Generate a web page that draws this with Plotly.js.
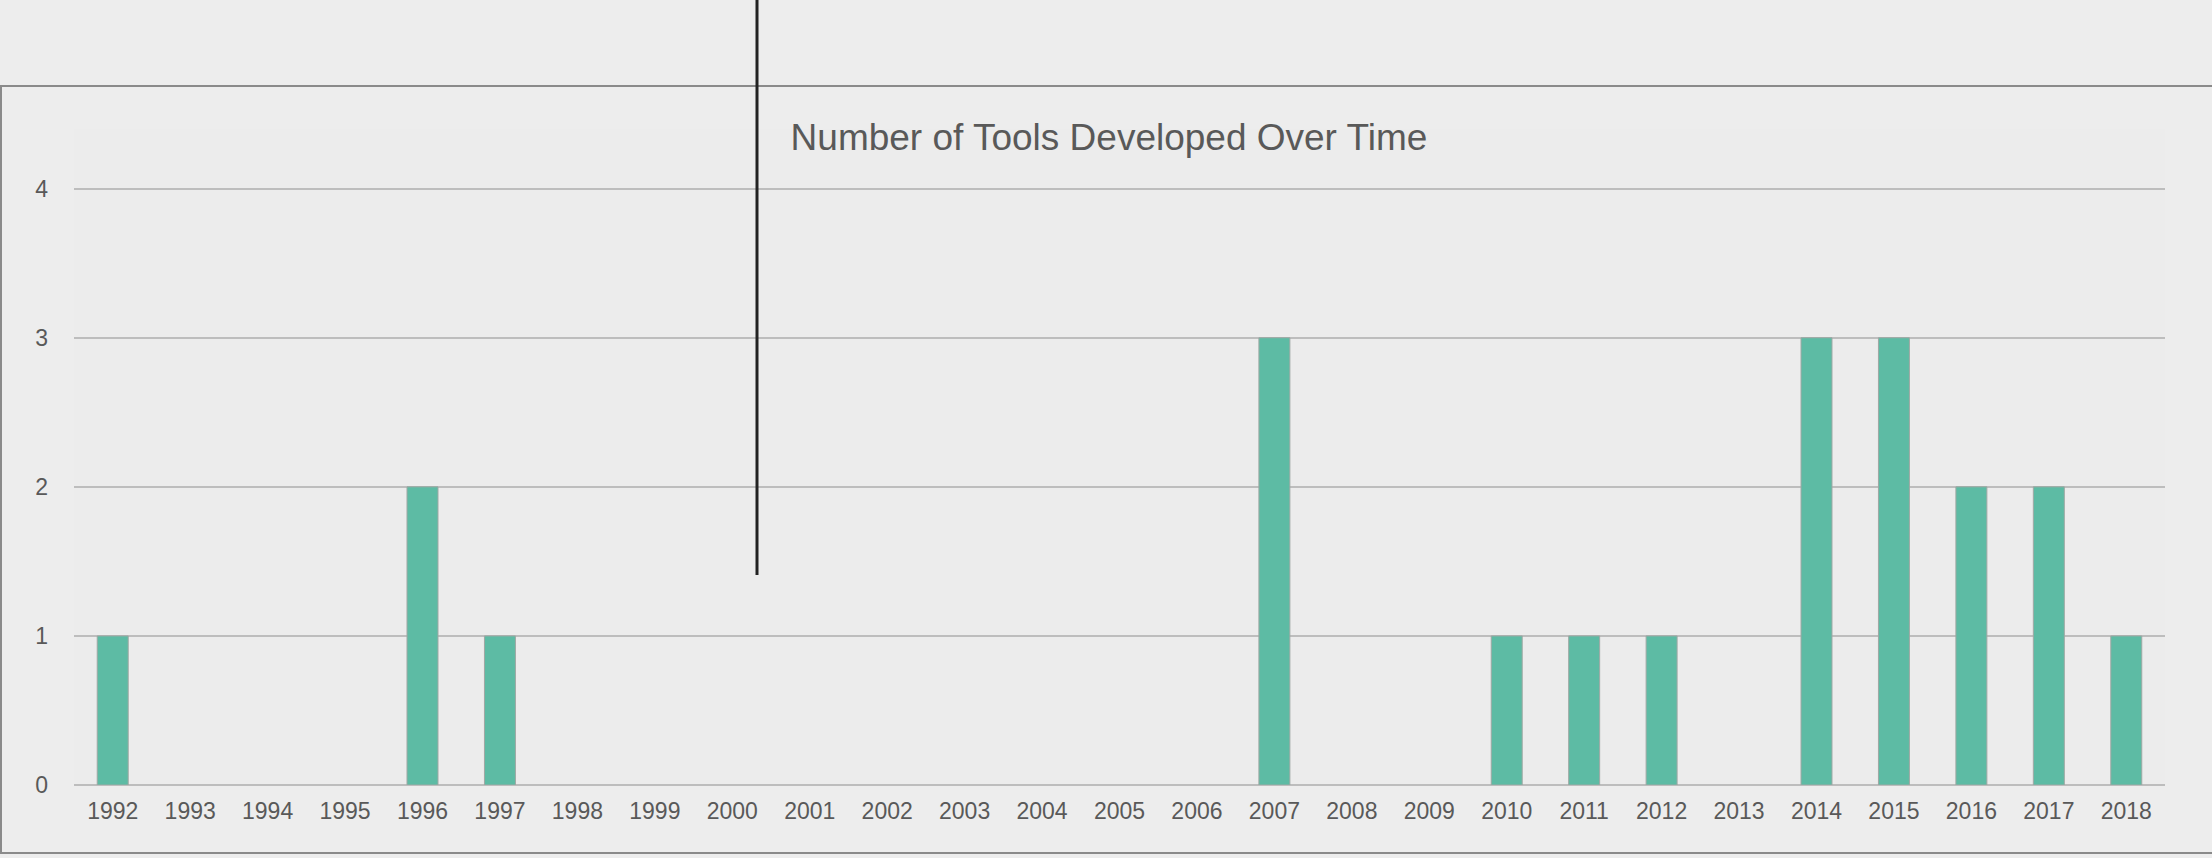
<!DOCTYPE html>
<html>
<head>
<meta charset="utf-8">
<script src="https://cdn.plot.ly/plotly-3.0.1.min.js"></script>
<style>
html,body{margin:0;padding:0;background:#EDEDED;}
#chart{width:2212px;height:858px;}
</style>
</head>
<body>
<div id="chart"></div>
<script>
const years = ['1992','1993','1994','1995','1996','1997','1998','1999','2000','2001','2002','2003','2004','2005','2006','2007','2008','2009','2010','2011','2012','2013','2014','2015','2016','2017','2018'];
const toolCounts = [1,0,0,0,2,1,0,0,0,0,0,0,0,0,0,3,0,0,1,1,1,0,3,3,2,2,1];
const yTicks = [0,1,2,3,4];
const chartTitle = 'Number of Tools Developed Over Time';

const W = 2212, H = 858;
const L = 74, R = 47, T = 129, B = 73;
const pw = W - L - R, ph = H - T - B;
const px = v => (v - L) / pw;          // pixel x -> paper
const py = v => (H - B - v) / ph;      // pixel y -> paper

const trace = {
  type: 'bar',
  x: years,
  y: toolCounts,
  marker: {
    color: '#5DBBA4',
    line: {color: '#9FA8A4', width: toolCounts.map(v => v > 0 ? 1 : 0)}
  },
  hoverinfo: 'x+y'
};

const layout = {
  width: W, height: H,
  margin: {l: L, r: R, t: T, b: B, pad: 0},
  paper_bgcolor: '#EDEDED',
  plot_bgcolor: '#ECECEC',
  bargap: 0.6,
  showlegend: false,
  font: {family: 'Liberation Sans, Arial, sans-serif', color: '#595959', size: 23},
  title: {
    text: chartTitle,
    font: {family: 'Liberation Sans, Arial, sans-serif', size: 37, color: '#595959'},
    xref: 'paper', x: px(1109), xanchor: 'center',
    yref: 'container', y: 1 - 137 / H, yanchor: 'middle'
  },
  xaxis: {
    type: 'category',
    showgrid: false,
    showline: false,
    ticks: '',
    tickfont: {size: 23, color: '#595959'},
    ticklabelstandoff: 10,
    fixedrange: true
  },
  yaxis: {
    range: [0, 4.4],
    tickvals: yTicks,
    ticktext: yTicks.map(String),
    showgrid: true,
    gridcolor: '#BDBDBD',
    gridwidth: 2,
    zeroline: true,
    zerolinecolor: '#BDBDBD',
    zerolinewidth: 2,
    showline: false,
    ticks: '',
    tickfont: {size: 23, color: '#595959'},
    ticklabelstandoff: 25,
    fixedrange: true
  },
  shapes: [
    {type: 'line', xref: 'paper', yref: 'paper', x0: px(0), x1: px(W), y0: py(86), y1: py(86), line: {color: '#8A8A8A', width: 2}},
    {type: 'line', xref: 'paper', yref: 'paper', x0: px(1), x1: px(1), y0: py(86), y1: py(853), line: {color: '#8A8A8A', width: 2}},
    {type: 'line', xref: 'paper', yref: 'paper', x0: px(0), x1: px(W), y0: py(853), y1: py(853), line: {color: '#8A8A8A', width: 2}},
    {type: 'line', xref: 'paper', yref: 'paper', x0: px(757), x1: px(757), y0: py(0), y1: py(575), line: {color: '#222222', width: 3}}
  ]
};

Plotly.newPlot('chart', [trace], layout, {displayModeBar: false, staticPlot: true});
</script>
</body>
</html>
